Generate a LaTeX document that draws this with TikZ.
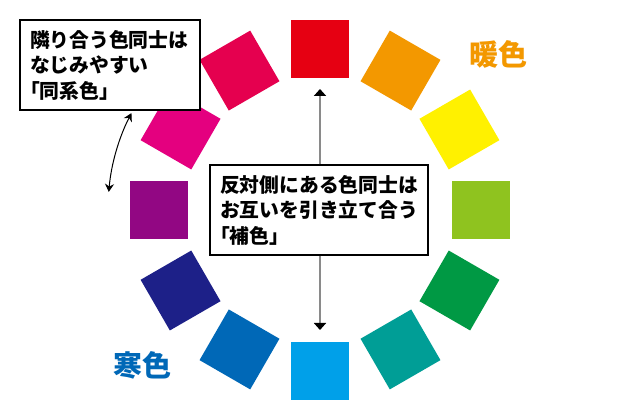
\documentclass[tikz,border=0pt]{standalone}
\usepackage{fontspec}
\newfontfamily\jp{Noto Sans CJK JP}
\usetikzlibrary{arrows.meta,calc}
\definecolor{c90}{HTML}{E60012}
\definecolor{c60}{HTML}{F39800}
\definecolor{c30}{HTML}{FFF100}
\definecolor{c0}{HTML}{8FC31F}
\definecolor{cm30}{HTML}{009944}
\definecolor{cm60}{HTML}{009E96}
\definecolor{cm90}{HTML}{00A0E9}
\definecolor{cm120}{HTML}{0068B7}
\definecolor{cm150}{HTML}{1D2088}
\definecolor{c180}{HTML}{920783}
\definecolor{c150}{HTML}{E4007F}
\definecolor{c120}{HTML}{E5004F}
\definecolor{warm}{HTML}{F39800}
\definecolor{cool}{HTML}{0068B7}
\definecolor{stem}{HTML}{8A8A8A}
\newcommand\openbr{\leavevmode\kern-0.5em「}
\tikzset{
  swatch/.style={inner sep=0pt, minimum size=58.5pt, outer sep=0pt},
  infobox/.style={draw=black, line width=1.2pt, fill=white, inner xsep=10pt, inner ysep=0pt,
    minimum height=90pt, align=left,
    font=\jp\bfseries\fontsize{19.8pt}{25.5pt}\selectfont},
  stemarrow/.style={draw=stem, line width=2pt, -{Triangle[width=12pt,length=7pt,color=black,fill=black]}},
  bendarrow/.style={draw=black, line width=1pt, {Stealth[width=9pt,length=8pt]}-{Stealth[width=9pt,length=8pt]}},
  tag/.style={font=\jp\bfseries\fontsize{29pt}{30pt}\selectfont, inner sep=0pt}
}
\begin{document}
\begin{tikzpicture}[x=1pt,y=1pt]
\useasboundingbox (0,0) rectangle (640,420);
\fill[white] (0,0) rectangle (640,420);
\coordinate (ctr) at (320,210);
\foreach \a/\c in {90/c90,60/c60,30/c30,0/c0,-30/cm30,-60/cm60,-90/cm90,-120/cm120,-150/cm150,180/c180,150/c150,120/c120}{
  \node[swatch, fill=\c, rotate=\a-90] (sq\c) at ($(ctr)+(\a:161)$) {};
}
\node[infobox, text width=160pt] (same) at (110,355) {隣り合う色同士は\\なじみやすい\\\openbr 同系色」};
\node[infobox, text width=198pt] (comp) at (319,210) {反対側にある色同士は\\お互いを引き立て合う\\\openbr 補色」};
\coordinate (uptip) at (320,331);
\coordinate (downtip) at (320,90);
\draw[stemarrow] (comp.north -| uptip) -- (uptip);
\draw[stemarrow] (comp.south -| downtip) -- (downtip);
\coordinate (arcA) at ($(ctr)+(152.8:212)$);
\draw[bendarrow] (arcA) arc[start angle=152.8, end angle=175.1, radius=212];
\node[tag, text=warm] (warmlbl) at (498,366) {暖色};
\node[tag, text=cool] (coollbl) at (142.5,55) {寒色};
\end{tikzpicture}
\end{document}
